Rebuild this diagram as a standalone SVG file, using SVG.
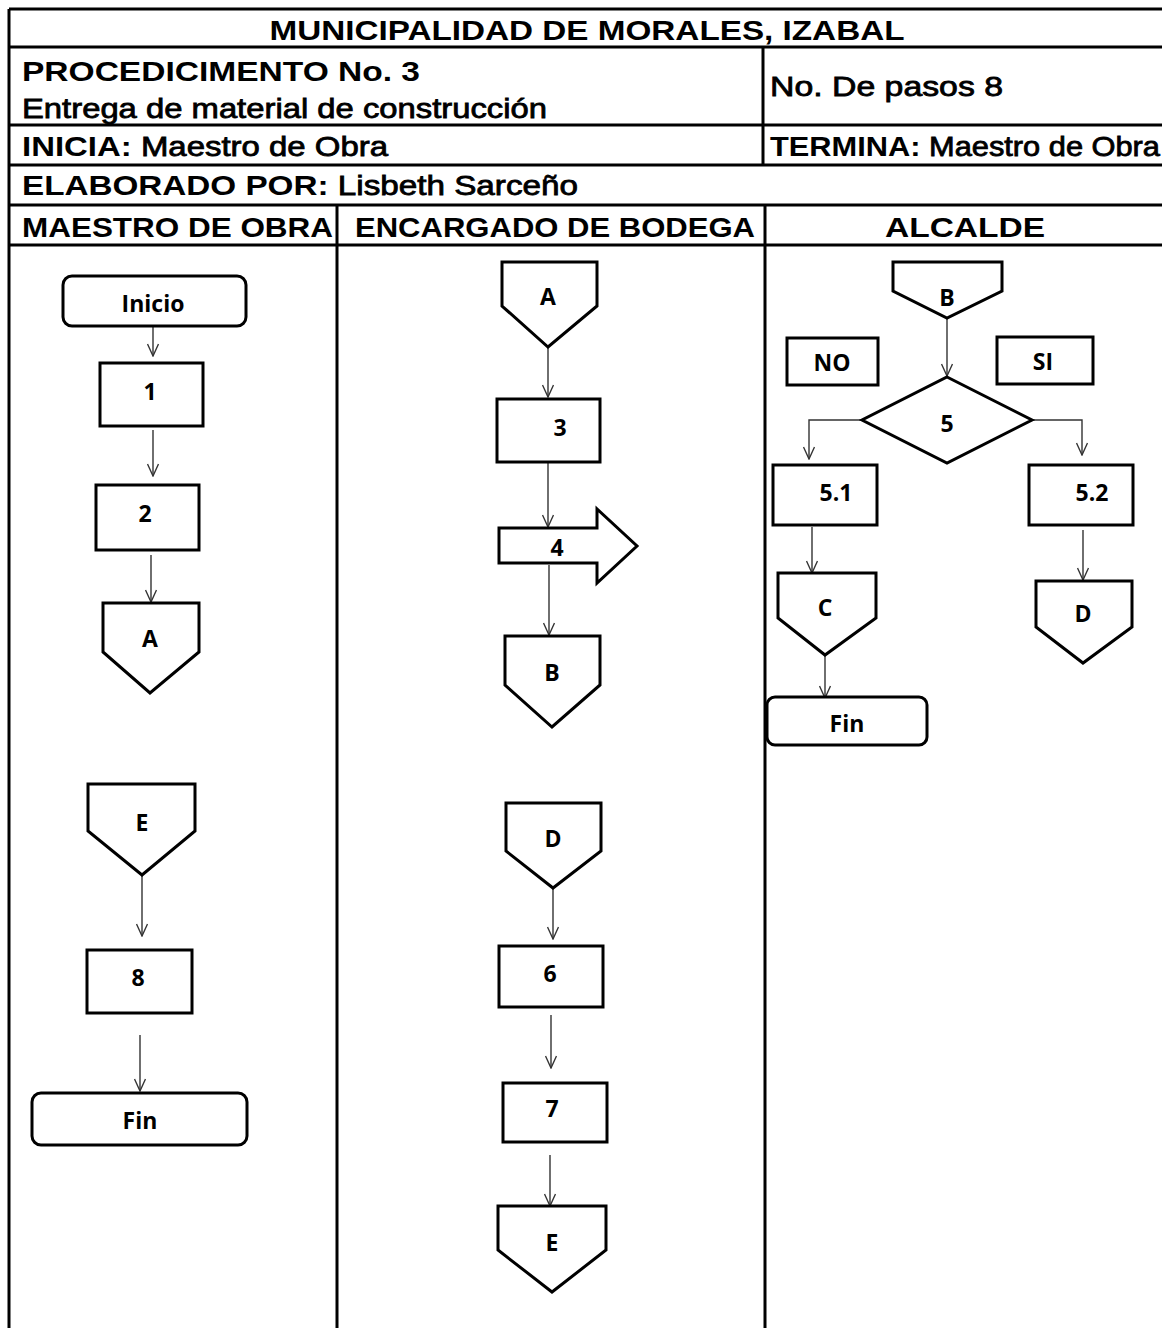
<svg xmlns="http://www.w3.org/2000/svg" width="1162" height="1328" viewBox="0 0 1162 1328">
<style>
.grid{stroke:#000;stroke-width:3;fill:none}
.hb{font-family:"Liberation Sans",Arial,sans-serif;font-weight:bold;font-size:28px;fill:#000}
.hn{font-family:"Liberation Sans",Arial,sans-serif;font-weight:normal;font-size:28px;fill:#000;stroke:#000;stroke-width:0.8}
.shape{fill:#fff;stroke:#000;stroke-width:3;stroke-linejoin:miter}
.lbl{font-family:"Open Sans","Liberation Sans",sans-serif;font-weight:bold;font-size:23px;fill:#000;text-anchor:middle;dominant-baseline:central}
.con{stroke:#333;stroke-width:1.4;fill:none;marker-end:url(#ah)}
</style>
<defs>
<marker id="ah" markerUnits="userSpaceOnUse" markerWidth="14" markerHeight="12" viewBox="0 0 14 12" refX="13" refY="6" orient="auto">
<path d="M1,0.5 L13,6 L1,11.5" fill="none" stroke="#333" stroke-width="1.4"/>
</marker>
</defs>
<rect width="1162" height="1328" fill="#fff"/>
<g id="table">
<path class="grid" d="M9,9 H1170 M9,47 H1170 M9,125 H1170 M9,165 H1170 M9,205 H1170 M9,245 H1170 M9,9 V1330 M763,47 V165 M337,205 V1330 M765,205 V1330"/>
<text class="hb" x="587" y="40" text-anchor="middle" textLength="635" lengthAdjust="spacingAndGlyphs">MUNICIPALIDAD DE MORALES, IZABAL</text>
<text class="hb" x="22" y="81" textLength="398" lengthAdjust="spacingAndGlyphs">PROCEDICIMENTO No. 3</text>
<text class="hn" x="22" y="118" textLength="525" lengthAdjust="spacingAndGlyphs">Entrega de material de construcción</text>
<text class="hn" x="770" y="96" textLength="233" lengthAdjust="spacingAndGlyphs">No. De pasos 8</text>
<text class="hb" x="22" y="156" textLength="366" lengthAdjust="spacingAndGlyphs">INICIA: <tspan class="hn">Maestro de Obra</tspan></text>
<text class="hb" x="770" y="156" textLength="390" lengthAdjust="spacingAndGlyphs">TERMINA: <tspan class="hn">Maestro de Obra</tspan></text>
<text class="hb" x="22" y="195" textLength="556" lengthAdjust="spacingAndGlyphs">ELABORADO POR: <tspan class="hn">Lisbeth Sarceño</tspan></text>
<text class="hb" x="22" y="237" textLength="311" lengthAdjust="spacingAndGlyphs">MAESTRO DE OBRA</text>
<text class="hb" x="355" y="237" textLength="400" lengthAdjust="spacingAndGlyphs">ENCARGADO DE BODEGA</text>
<text class="hb" x="885" y="237" textLength="160" lengthAdjust="spacingAndGlyphs">ALCALDE</text>
</g>
<g id="connectors">
<path class="con" d="M153,327 V356"/>
<path class="con" d="M153,430 V476"/>
<path class="con" d="M151,555 V602"/>
<path class="con" d="M142,876 V936"/>
<path class="con" d="M140,1035 V1091"/>
<path class="con" d="M548,348 V397"/>
<path class="con" d="M548,463 V527"/>
<path class="con" d="M549,565 V635"/>
<path class="con" d="M553,889 V939"/>
<path class="con" d="M551,1015 V1068"/>
<path class="con" d="M550,1155 V1206"/>
<path class="con" d="M947,319 V376"/>
<path class="con" d="M862,420 H809 V459"/>
<path class="con" d="M1032,420 H1082 V455"/>
<path class="con" d="M812,527 V573"/>
<path class="con" d="M825,656 V698"/>
<path class="con" d="M1083,530 V580"/>
</g>
<g id="n-inicio"><rect class="shape" x="63" y="276" width="183" height="50" rx="9"/><text class="lbl" x="153" y="303">Inicio</text></g>
<g id="n-1"><rect class="shape" x="100" y="363" width="103" height="63"/><text class="lbl" x="150" y="391">1</text></g>
<g id="n-2"><rect class="shape" x="96" y="485" width="103" height="65"/><text class="lbl" x="145" y="513">2</text></g>
<g id="n-a1"><path class="shape" d="M103,603 H199 V652 L150,693 L103,652 Z"/><text class="lbl" x="150" y="638">A</text></g>
<g id="n-e2"><path class="shape" d="M88,784 H195 V831 L142,875 L88,831 Z"/><text class="lbl" x="142" y="822">E</text></g>
<g id="n-8"><rect class="shape" x="87" y="950" width="105" height="63"/><text class="lbl" x="138" y="977">8</text></g>
<g id="n-fin1"><rect class="shape" x="32" y="1093" width="215" height="52" rx="9"/><text class="lbl" x="140" y="1120">Fin</text></g>
<g id="n-a2"><path class="shape" d="M502,262 H597 V306 L548,347 L502,306 Z"/><text class="lbl" x="548" y="296">A</text></g>
<g id="n-3"><rect class="shape" x="497" y="399" width="103" height="63"/><text class="lbl" x="560" y="427">3</text></g>
<g id="n-4"><path class="shape" d="M499,528 H597 V509 L637,546 L597,583 V563 H499 Z"/><text class="lbl" x="557" y="547">4</text></g>
<g id="n-b1"><path class="shape" d="M505,636 H600 V685 L552,727 L505,685 Z"/><text class="lbl" x="552" y="672">B</text></g>
<g id="n-d2"><path class="shape" d="M506,803 H601 V851 L553,888 L506,851 Z"/><text class="lbl" x="553" y="838">D</text></g>
<g id="n-6"><rect class="shape" x="499" y="946" width="104" height="61"/><text class="lbl" x="550" y="973">6</text></g>
<g id="n-7"><rect class="shape" x="503" y="1083" width="104" height="59"/><text class="lbl" x="552" y="1108">7</text></g>
<g id="n-e1"><path class="shape" d="M498,1206 H606 V1250 L552,1292 L498,1250 Z"/><text class="lbl" x="552" y="1242">E</text></g>
<g id="n-b2"><path class="shape" d="M893,262 H1002 V291 L947,318 L893,291 Z"/><text class="lbl" x="947" y="297">B</text></g>
<g id="n-no"><rect class="shape" x="787" y="338" width="91" height="47"/><text class="lbl" x="832" y="362">NO</text></g>
<g id="n-si"><rect class="shape" x="997" y="337" width="96" height="47"/><text class="lbl" x="1043" y="361">SI</text></g>
<g id="n-5"><path class="shape" d="M947,377 L1032,420 L947,463 L862,420 Z"/><text class="lbl" x="947" y="423">5</text></g>
<g id="n-51"><rect class="shape" x="773" y="465" width="104" height="60"/><text class="lbl" x="836" y="492">5.1</text></g>
<g id="n-52"><rect class="shape" x="1029" y="465" width="104" height="60"/><text class="lbl" x="1092" y="492">5.2</text></g>
<g id="n-c"><path class="shape" d="M778,573 H876 V618 L825,655 L778,618 Z"/><text class="lbl" x="825" y="607">C</text></g>
<g id="n-fin2"><rect class="shape" x="767" y="697" width="160" height="48" rx="8"/><text class="lbl" x="847" y="723">Fin</text></g>
<g id="n-d1"><path class="shape" d="M1036,581 H1132 V627 L1083,663 L1036,627 Z"/><text class="lbl" x="1083" y="613">D</text></g>
</svg>
